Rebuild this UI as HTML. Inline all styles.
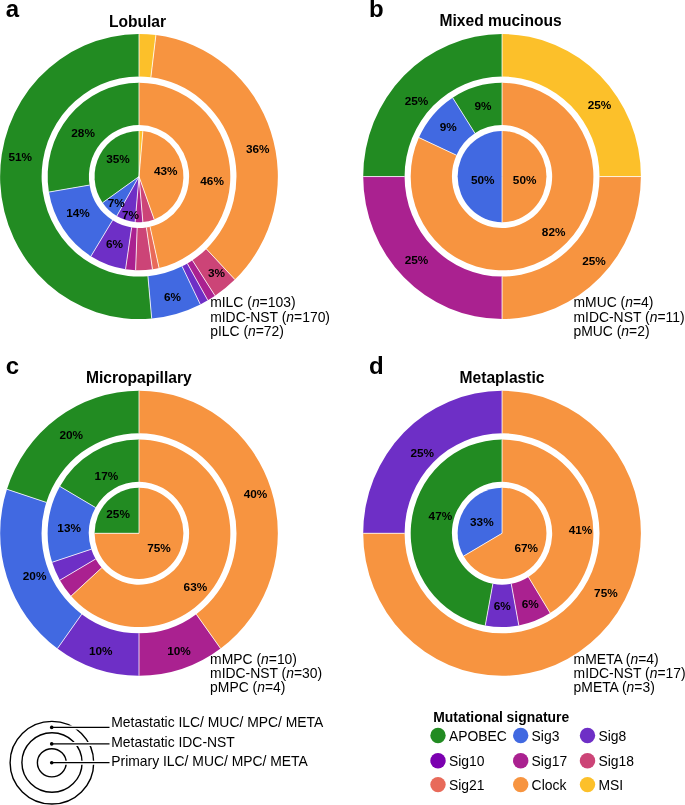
<!DOCTYPE html>
<html><head><meta charset="utf-8"><style>
html,body{margin:0;padding:0;background:#fff;overflow:hidden;}
svg{display:block;font-family:"Liberation Sans", sans-serif;will-change:transform;}
</style></head><body>
<svg width="685" height="805" viewBox="0 0 685 805">
<rect width="685" height="805" fill="#fff"/>
<path d="M139.00,34.05A138.85,142.50 0 1 0 151.69,318.45L147.91,276.17A97.47,100.03 0 1 1 139.00,76.52Z" fill="#228B22"/>
<path d="M151.69,318.45A138.85,142.50 0 0 0 200.33,304.39L182.06,266.30A97.47,100.03 0 0 1 147.91,276.17Z" fill="#4169E1"/>
<path d="M200.33,304.39A138.85,142.50 0 0 0 207.81,300.32L187.31,263.44A97.47,100.03 0 0 1 182.06,266.30Z" fill="#6E2FC6"/>
<path d="M207.81,300.32A138.85,142.50 0 0 0 215.04,295.78L192.38,260.25A97.47,100.03 0 0 1 187.31,263.44Z" fill="#AA2190"/>
<path d="M215.04,295.78A138.85,142.50 0 0 0 234.91,279.59L206.33,248.88A97.47,100.03 0 0 1 192.38,260.25Z" fill="#CC4477"/>
<path d="M234.91,279.59A138.85,142.50 0 0 0 155.90,35.11L150.86,77.26A97.47,100.03 0 0 1 206.33,248.88Z" fill="#F79440"/>
<path d="M155.90,35.11A138.85,142.50 0 0 0 139.00,34.05L139.00,76.52A97.47,100.03 0 0 1 150.86,77.26Z" fill="#FCC02A"/>
<path d="M139.00,82.79A91.36,93.77 0 0 0 48.90,192.07L89.57,185.07A50.12,51.44 0 0 1 139.00,125.11Z" fill="#228B22"/>
<path d="M48.90,192.07A91.36,93.77 0 0 0 90.90,256.27L112.61,220.29A50.12,51.44 0 0 1 89.57,185.07Z" fill="#4169E1"/>
<path d="M90.90,256.27A91.36,93.77 0 0 0 125.54,269.29L131.62,227.43A50.12,51.44 0 0 1 112.61,220.29Z" fill="#6E2FC6"/>
<path d="M125.54,269.29A91.36,93.77 0 0 0 135.62,270.25L137.15,227.96A50.12,51.44 0 0 1 131.62,227.43Z" fill="#AA2190"/>
<path d="M135.62,270.25A91.36,93.77 0 0 0 152.46,269.29L146.38,227.43A50.12,51.44 0 0 1 137.15,227.96Z" fill="#CC4477"/>
<path d="M152.46,269.29A91.36,93.77 0 0 0 159.10,268.02L150.02,226.73A50.12,51.44 0 0 1 146.38,227.43Z" fill="#E86A5A"/>
<path d="M159.10,268.02A91.36,93.77 0 0 0 139.00,82.79L139.00,125.11A50.12,51.44 0 0 1 150.02,226.73Z" fill="#F79440"/>
<path d="M139.00,130.95A44.43,45.60 0 0 0 102.60,202.71L139.00,176.55Z" fill="#228B22"/>
<path d="M102.60,202.71A44.43,45.60 0 0 0 116.78,216.04L139.00,176.55Z" fill="#4169E1"/>
<path d="M116.78,216.04A44.43,45.60 0 0 0 135.13,221.98L139.00,176.55Z" fill="#6E2FC6"/>
<path d="M135.13,221.98A44.43,45.60 0 0 0 142.87,221.98L139.00,176.55Z" fill="#AA2190"/>
<path d="M142.87,221.98A44.43,45.60 0 0 0 154.20,219.40L139.00,176.55Z" fill="#CC4477"/>
<path d="M154.20,219.40A44.43,45.60 0 0 0 142.87,131.12L139.00,176.55Z" fill="#F79440"/>
<path d="M142.87,131.12A44.43,45.60 0 0 0 139.00,130.95L139.00,176.55Z" fill="#FCC02A"/>
<path d="M502.05,34.05A138.85,142.50 0 0 0 363.20,176.55L404.58,176.55A97.47,100.03 0 0 1 502.05,76.52Z" fill="#228B22"/>
<path d="M363.20,176.55A138.85,142.50 0 0 0 502.05,319.05L502.05,276.59A97.47,100.03 0 0 1 404.58,176.55Z" fill="#AA2190"/>
<path d="M502.05,319.05A138.85,142.50 0 0 0 640.90,176.55L599.52,176.55A97.47,100.03 0 0 1 502.05,276.59Z" fill="#F79440"/>
<path d="M640.90,176.55A138.85,142.50 0 0 0 502.05,34.05L502.05,76.52A97.47,100.03 0 0 1 599.52,176.55Z" fill="#FCC02A"/>
<path d="M502.05,82.79A91.36,93.77 0 0 0 452.66,97.67L474.95,133.27A50.12,51.44 0 0 1 502.05,125.11Z" fill="#228B22"/>
<path d="M452.66,97.67A91.36,93.77 0 0 0 418.94,137.60L456.45,155.18A50.12,51.44 0 0 1 474.95,133.27Z" fill="#4169E1"/>
<path d="M418.94,137.60A91.36,93.77 0 1 0 502.05,82.79L502.05,125.11A50.12,51.44 0 1 1 456.45,155.18Z" fill="#F79440"/>
<path d="M502.05,130.95A44.43,45.60 0 0 0 502.05,222.15L502.05,176.55Z" fill="#4169E1"/>
<path d="M502.05,222.15A44.43,45.60 0 0 0 502.05,130.95L502.05,176.55Z" fill="#F79440"/>
<path d="M139.00,390.80A138.85,142.50 0 0 0 6.95,489.27L46.30,502.39A97.47,100.03 0 0 1 139.00,433.26Z" fill="#228B22"/>
<path d="M6.95,489.27A138.85,142.50 0 0 0 57.39,648.58L81.71,614.23A97.47,100.03 0 0 1 46.30,502.39Z" fill="#4169E1"/>
<path d="M57.39,648.58A138.85,142.50 0 0 0 139.00,675.80L139.00,633.33A97.47,100.03 0 0 1 81.71,614.23Z" fill="#6E2FC6"/>
<path d="M139.00,675.80A138.85,142.50 0 0 0 220.61,648.58L196.29,614.23A97.47,100.03 0 0 1 139.00,633.33Z" fill="#AA2190"/>
<path d="M220.61,648.58A138.85,142.50 0 0 0 139.00,390.80L139.00,433.26A97.47,100.03 0 0 1 196.29,614.23Z" fill="#F79440"/>
<path d="M139.00,439.53A91.36,93.77 0 0 0 59.88,486.42L95.59,507.58A50.12,51.44 0 0 1 139.00,481.86Z" fill="#228B22"/>
<path d="M59.88,486.42A91.36,93.77 0 0 0 52.11,562.27L91.33,549.20A50.12,51.44 0 0 1 95.59,507.58Z" fill="#4169E1"/>
<path d="M52.11,562.27A91.36,93.77 0 0 0 59.88,580.18L95.59,559.02A50.12,51.44 0 0 1 91.33,549.20Z" fill="#6E2FC6"/>
<path d="M59.88,580.18A91.36,93.77 0 0 0 71.10,596.04L101.75,567.72A50.12,51.44 0 0 1 95.59,559.02Z" fill="#AA2190"/>
<path d="M71.10,596.04A91.36,93.77 0 1 0 139.00,439.53L139.00,481.86A50.12,51.44 0 1 1 101.75,567.72Z" fill="#F79440"/>
<path d="M139.00,487.70A44.43,45.60 0 0 0 94.57,533.30L139.00,533.30Z" fill="#228B22"/>
<path d="M94.57,533.30A44.43,45.60 0 1 0 139.00,487.70L139.00,533.30Z" fill="#F79440"/>
<path d="M502.05,390.80A138.85,142.50 0 0 0 363.20,533.30L404.58,533.30A97.47,100.03 0 0 1 502.05,433.26Z" fill="#6E2FC6"/>
<path d="M363.20,533.30A138.85,142.50 0 1 0 502.05,390.80L502.05,433.26A97.47,100.03 0 1 1 404.58,533.30Z" fill="#F79440"/>
<path d="M502.05,439.53A91.36,93.77 0 0 0 485.26,625.47L492.84,583.87A50.12,51.44 0 0 1 502.05,481.86Z" fill="#228B22"/>
<path d="M485.26,625.47A91.36,93.77 0 0 0 518.84,625.47L511.26,583.87A50.12,51.44 0 0 1 492.84,583.87Z" fill="#6E2FC6"/>
<path d="M518.84,625.47A91.36,93.77 0 0 0 550.15,613.02L528.44,577.04A50.12,51.44 0 0 1 511.26,583.87Z" fill="#AA2190"/>
<path d="M550.15,613.02A91.36,93.77 0 0 0 502.05,439.53L502.05,481.86A50.12,51.44 0 0 1 528.44,577.04Z" fill="#F79440"/>
<path d="M502.05,487.70A44.43,45.60 0 0 0 463.57,556.10L502.05,533.30Z" fill="#4169E1"/>
<path d="M463.57,556.10A44.43,45.60 0 1 0 502.05,487.70L502.05,533.30Z" fill="#F79440"/>
<g stroke="#fff" stroke-width="0.8"><line x1="139.00" y1="76.52" x2="139.00" y2="34.05"/>
<line x1="147.91" y1="276.17" x2="151.69" y2="318.45"/>
<line x1="182.06" y1="266.30" x2="200.33" y2="304.39"/>
<line x1="187.31" y1="263.44" x2="207.81" y2="300.32"/>
<line x1="192.38" y1="260.25" x2="215.04" y2="295.78"/>
<line x1="206.33" y1="248.88" x2="234.91" y2="279.59"/>
<line x1="150.86" y1="77.26" x2="155.90" y2="35.11"/>
<line x1="139.00" y1="125.11" x2="139.00" y2="82.79"/>
<line x1="89.57" y1="185.07" x2="48.90" y2="192.07"/>
<line x1="112.61" y1="220.29" x2="90.90" y2="256.27"/>
<line x1="131.62" y1="227.43" x2="125.54" y2="269.29"/>
<line x1="137.15" y1="227.96" x2="135.62" y2="270.25"/>
<line x1="146.38" y1="227.43" x2="152.46" y2="269.29"/>
<line x1="150.02" y1="226.73" x2="159.10" y2="268.02"/>
<line x1="139.00" y1="176.55" x2="139.00" y2="130.95"/>
<line x1="139.00" y1="176.55" x2="102.60" y2="202.71"/>
<line x1="139.00" y1="176.55" x2="116.78" y2="216.04"/>
<line x1="139.00" y1="176.55" x2="135.13" y2="221.98"/>
<line x1="139.00" y1="176.55" x2="142.87" y2="221.98"/>
<line x1="139.00" y1="176.55" x2="154.20" y2="219.40"/>
<line x1="139.00" y1="176.55" x2="142.87" y2="131.12"/>
<line x1="502.05" y1="76.52" x2="502.05" y2="34.05"/>
<line x1="404.58" y1="176.55" x2="363.20" y2="176.55"/>
<line x1="502.05" y1="276.59" x2="502.05" y2="319.05"/>
<line x1="599.52" y1="176.55" x2="640.90" y2="176.55"/>
<line x1="502.05" y1="125.11" x2="502.05" y2="82.79"/>
<line x1="474.95" y1="133.27" x2="452.66" y2="97.67"/>
<line x1="456.45" y1="155.18" x2="418.94" y2="137.60"/>
<line x1="502.05" y1="176.55" x2="502.05" y2="130.95"/>
<line x1="502.05" y1="176.55" x2="502.05" y2="222.15"/>
<line x1="139.00" y1="433.26" x2="139.00" y2="390.80"/>
<line x1="46.30" y1="502.39" x2="6.95" y2="489.27"/>
<line x1="81.71" y1="614.23" x2="57.39" y2="648.58"/>
<line x1="139.00" y1="633.33" x2="139.00" y2="675.80"/>
<line x1="196.29" y1="614.23" x2="220.61" y2="648.58"/>
<line x1="139.00" y1="481.86" x2="139.00" y2="439.53"/>
<line x1="95.59" y1="507.58" x2="59.88" y2="486.42"/>
<line x1="91.33" y1="549.20" x2="52.11" y2="562.27"/>
<line x1="95.59" y1="559.02" x2="59.88" y2="580.18"/>
<line x1="101.75" y1="567.72" x2="71.10" y2="596.04"/>
<line x1="139.00" y1="533.30" x2="139.00" y2="487.70"/>
<line x1="139.00" y1="533.30" x2="94.57" y2="533.30"/>
<line x1="502.05" y1="433.26" x2="502.05" y2="390.80"/>
<line x1="404.58" y1="533.30" x2="363.20" y2="533.30"/>
<line x1="502.05" y1="481.86" x2="502.05" y2="439.53"/>
<line x1="492.84" y1="583.87" x2="485.26" y2="625.47"/>
<line x1="511.26" y1="583.87" x2="518.84" y2="625.47"/>
<line x1="528.44" y1="577.04" x2="550.15" y2="613.02"/>
<line x1="502.05" y1="533.30" x2="502.05" y2="487.70"/>
<line x1="502.05" y1="533.30" x2="463.57" y2="556.10"/></g>
<g font-size="11.8" font-weight="700" fill="#000">
<text x="20.20" y="160.85" text-anchor="middle">51%</text>
<text x="83.10" y="137.35" text-anchor="middle">28%</text>
<text x="118.00" y="162.85" text-anchor="middle">35%</text>
<text x="165.80" y="175.35" text-anchor="middle">43%</text>
<text x="212.10" y="185.35" text-anchor="middle">46%</text>
<text x="257.80" y="152.65" text-anchor="middle">36%</text>
<text x="78.00" y="216.70" text-anchor="middle">14%</text>
<text x="116.35" y="206.60" text-anchor="middle">7%</text>
<text x="130.60" y="218.60" text-anchor="middle">7%</text>
<text x="114.60" y="247.95" text-anchor="middle">6%</text>
<text x="216.60" y="276.80" text-anchor="middle">3%</text>
<text x="172.50" y="300.75" text-anchor="middle">6%</text>
<text x="416.55" y="105.15" text-anchor="middle">25%</text>
<text x="482.95" y="109.55" text-anchor="middle">9%</text>
<text x="448.35" y="131.15" text-anchor="middle">9%</text>
<text x="599.50" y="109.35" text-anchor="middle">25%</text>
<text x="482.80" y="183.75" text-anchor="middle">50%</text>
<text x="524.65" y="183.75" text-anchor="middle">50%</text>
<text x="553.65" y="236.45" text-anchor="middle">82%</text>
<text x="416.55" y="264.35" text-anchor="middle">25%</text>
<text x="594.00" y="264.50" text-anchor="middle">25%</text>
<text x="71.25" y="439.05" text-anchor="middle">20%</text>
<text x="106.40" y="479.55" text-anchor="middle">17%</text>
<text x="118.10" y="518.10" text-anchor="middle">25%</text>
<text x="69.15" y="532.00" text-anchor="middle">13%</text>
<text x="159.00" y="552.00" text-anchor="middle">75%</text>
<text x="255.55" y="497.90" text-anchor="middle">40%</text>
<text x="34.60" y="580.20" text-anchor="middle">20%</text>
<text x="195.40" y="590.90" text-anchor="middle">63%</text>
<text x="100.75" y="654.95" text-anchor="middle">10%</text>
<text x="178.95" y="654.95" text-anchor="middle">10%</text>
<text x="422.25" y="456.75" text-anchor="middle">25%</text>
<text x="440.40" y="519.60" text-anchor="middle">47%</text>
<text x="481.85" y="526.15" text-anchor="middle">33%</text>
<text x="526.20" y="551.80" text-anchor="middle">67%</text>
<text x="580.55" y="533.50" text-anchor="middle">41%</text>
<text x="605.90" y="596.55" text-anchor="middle">75%</text>
<text x="502.30" y="609.60" text-anchor="middle">6%</text>
<text x="530.30" y="607.65" text-anchor="middle">6%</text>
</g>
<g font-size="13.9" fill="#000">
<text x="210.2" y="306.9">mILC (<tspan font-style="italic">n</tspan>=103)</text>
<text x="210.2" y="321.7">mIDC-NST (<tspan font-style="italic">n</tspan>=170)</text>
<text x="210.2" y="336.4">pILC (<tspan font-style="italic">n</tspan>=72)</text>
<text x="573.5" y="306.9">mMUC (<tspan font-style="italic">n</tspan>=4)</text>
<text x="573.5" y="321.7">mIDC-NST (<tspan font-style="italic">n</tspan>=11)</text>
<text x="573.5" y="336.4">pMUC (<tspan font-style="italic">n</tspan>=2)</text>
<text x="210.1" y="664.3">mMPC (<tspan font-style="italic">n</tspan>=10)</text>
<text x="210.1" y="678.3">mIDC-NST (<tspan font-style="italic">n</tspan>=30)</text>
<text x="210.1" y="691.6">pMPC (<tspan font-style="italic">n</tspan>=4)</text>
<text x="573.6" y="664.3">mMETA (<tspan font-style="italic">n</tspan>=4)</text>
<text x="573.6" y="678.0">mIDC-NST (<tspan font-style="italic">n</tspan>=17)</text>
<text x="573.6" y="691.5">pMETA (<tspan font-style="italic">n</tspan>=3)</text>
</g><g font-size="15.6" font-weight="700" text-anchor="middle">
<text x="137.5" y="26.6">Lobular</text>
<text x="500.6" y="26.3">Mixed mucinous</text>
<text x="138.8" y="383.3">Micropapillary</text>
<text x="502" y="383.3">Metaplastic</text>
</g><g font-size="24" font-weight="700">
<text x="5.8" y="17.3">a</text>
<text x="368.9" y="17.2">b</text>
<text x="5.8" y="374.2">c</text>
<text x="368.9" y="374.2">d</text>
</g>
<text x="433.3" y="722.1" font-size="13.9" font-weight="700">Mutational signature</text>
<g font-size="13.9">
<circle cx="438.0" cy="735.5" r="7.7" fill="#228B22"/>
<text x="448.9" y="740.6">APOBEC</text>
<circle cx="520.7" cy="735.5" r="7.7" fill="#4169E1"/>
<text x="531.6" y="740.6">Sig3</text>
<circle cx="587.5" cy="735.5" r="7.7" fill="#6E2FC6"/>
<text x="598.4" y="740.6">Sig8</text>
<circle cx="438.0" cy="760.7" r="7.7" fill="#7B00B0"/>
<text x="448.9" y="765.8">Sig10</text>
<circle cx="520.7" cy="760.7" r="7.7" fill="#AA2190"/>
<text x="531.6" y="765.8">Sig17</text>
<circle cx="587.5" cy="760.7" r="7.7" fill="#CC4477"/>
<text x="598.4" y="765.8">Sig18</text>
<circle cx="438.0" cy="784.6" r="7.7" fill="#E86A5A"/>
<text x="448.9" y="789.7">Sig21</text>
<circle cx="520.7" cy="784.6" r="7.7" fill="#F79440"/>
<text x="531.6" y="789.7">Clock</text>
<circle cx="587.5" cy="784.6" r="7.7" fill="#FCC02A"/>
<text x="598.4" y="789.7">MSI</text>
</g>
<g fill="none" stroke="#000" stroke-width="1.4">
<ellipse cx="51.9" cy="762.7" rx="41.8" ry="41.3"/>
<ellipse cx="52" cy="762.5" rx="30.1" ry="29.8"/>
<ellipse cx="51.8" cy="762.8" rx="14.4" ry="14.1"/>
</g>
<line x1="51.7" y1="727.4" x2="109.5" y2="727.4" stroke="#fff" stroke-width="4"/>
<line x1="51.7" y1="743.9" x2="109.5" y2="743.9" stroke="#fff" stroke-width="4"/>
<line x1="51.7" y1="762.7" x2="109.5" y2="762.7" stroke="#fff" stroke-width="4"/>
<line x1="51.7" y1="727.4" x2="109.5" y2="727.4" stroke="#000" stroke-width="1.3"/>
<circle cx="51.7" cy="727.4" r="1.8" fill="#000"/>
<line x1="51.7" y1="743.9" x2="109.5" y2="743.9" stroke="#000" stroke-width="1.3"/>
<circle cx="51.7" cy="743.9" r="1.8" fill="#000"/>
<line x1="51.7" y1="762.7" x2="109.5" y2="762.7" stroke="#000" stroke-width="1.3"/>
<circle cx="51.7" cy="762.7" r="1.8" fill="#000"/>
<g font-size="13.9">
<text x="111.3" y="726.9">Metastatic ILC/ MUC/ MPC/ META</text>
<text x="111.3" y="747.3">Metastatic IDC-NST</text>
<text x="111.3" y="766.2">Primary ILC/ MUC/ MPC/ META</text>
</g>
</svg>
</body></html>
